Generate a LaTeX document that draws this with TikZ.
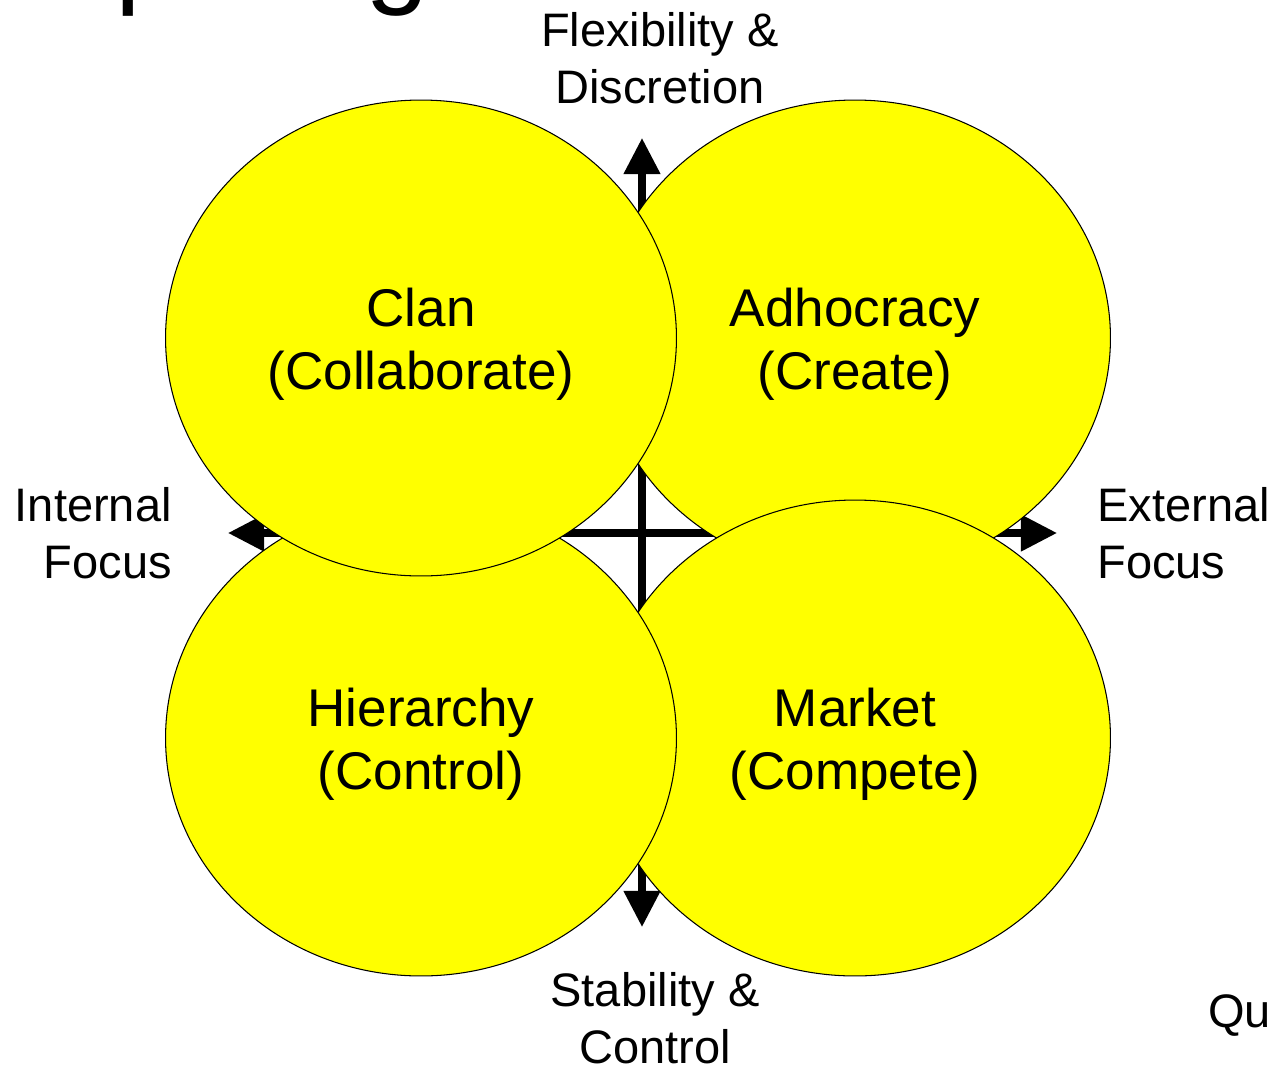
\documentclass[tikz,border=0pt]{standalone}
\usepackage{fontspec}
\setmainfont{Liberation Sans}
\usetikzlibrary{positioning, calc, shapes.geometric, arrows.meta}
\definecolor{xyellow}{HTML}{FFFF00}

\begin{document}
\begin{tikzpicture}[x=0.02cm, y=-0.02cm,
		quadrant/.style={ellipse, draw, line width=0.6pt, fill=xyellow, minimum width=10.22cm, minimum height=9.52cm, inner sep=0pt},
		quadtext/.style={inner sep=0pt, align=center, font=\fontsize{30.2}{35.8}\selectfont},
		axislabel/.style={inner sep=0pt, font=\fontsize{26.75}{32.4}\selectfont},
		axisarrow/.style={line width=4pt, {Triangle[length=20.5pt, width=20pt]}-{Triangle[length=20.5pt, width=20pt]}},
	]
		\useasboundingbox (0,0) rectangle (1274,1065);

		% cropped title and footer
		\node[anchor=base west, inner sep=0pt, font=\fontsize{65.4}{70}\selectfont] (title) at (-127,-8) {Competing};
		\node[anchor=base west, axislabel] (footer) at (1208,1027) {Qu};

		\coordinate (up) at (642,138);
		\coordinate (down) at (642,927);
		\coordinate (left) at (228,533);
		\coordinate (right) at (1057,533);

		\draw[axisarrow] (down) -- (up);
		\draw[axisarrow] (left) -- (right);

		\node[quadrant] (adhocracy) at (855,338) {};
		\node[quadrant] (market) at (855,738) {};
		\node[quadrant] (hierarchy) at (421,738) {};
		\node[quadrant] (clan) at (421,338) {};

		\node[quadtext] (clanText) at ($(clan)+(0,6)$) {Clan\\(Collaborate)};
		\node[quadtext] (adhocracyText) at ($(adhocracy)+(0,6)$) {Adhocracy\\(Create)};
		\node[quadtext] (hierarchyText) at ($(hierarchy)+(0,6)$) {Hierarchy\\(Control)};
		\node[quadtext] (marketText) at ($(market)+(0,6)$) {Market\\(Compete)};

		\node[axislabel, align=center] (flex) at (660,58) {Flexibility \&\\Discretion};
		\node[axislabel, align=center] (stability) at (655,1018) {Stability \&\\Control};
		\node[axislabel, align=right, anchor=east] (internal) at (172,533) {Internal\\Focus};
		\node[axislabel, align=left, anchor=west] (external) at (1097,533) {External\\Focus};
	\end{tikzpicture}
\end{document}
